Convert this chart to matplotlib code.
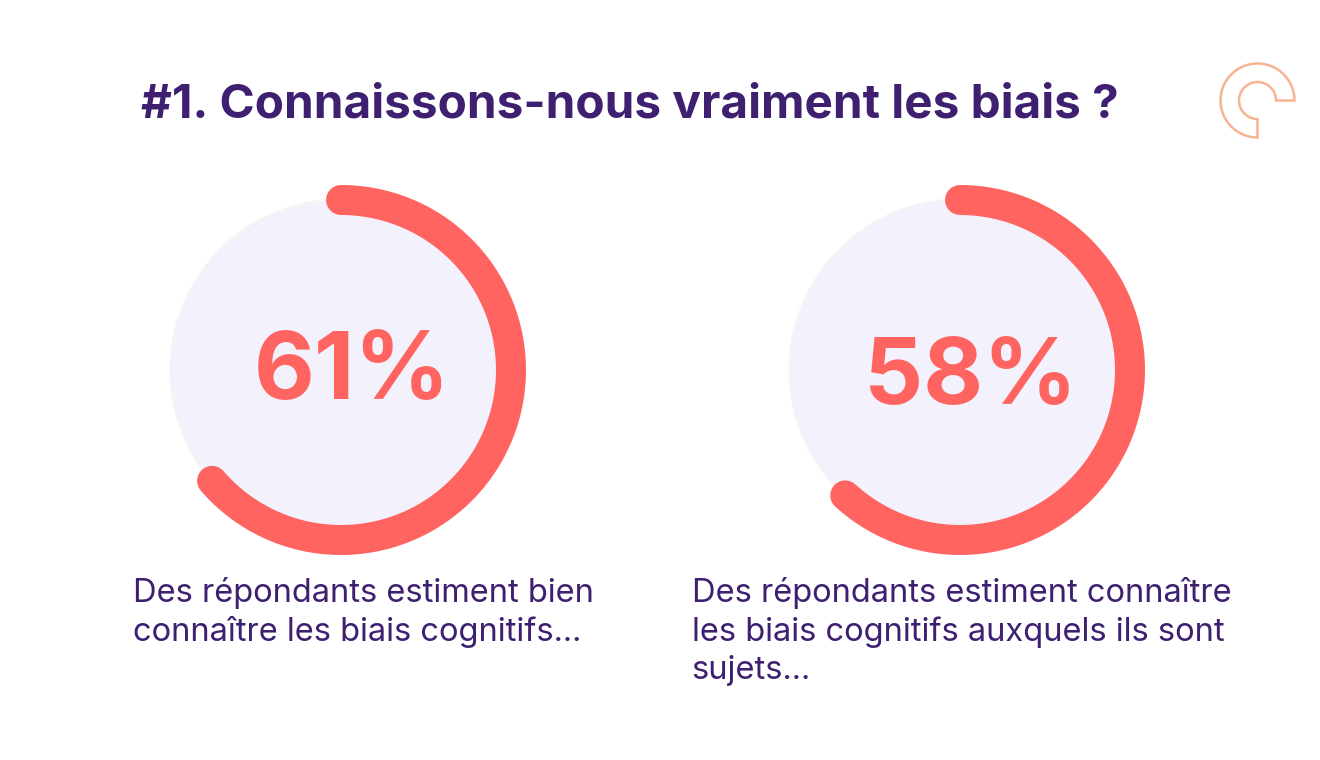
import numpy as np
import matplotlib
matplotlib.use("Agg")
import matplotlib.pyplot as plt

plt.rcParams['font.family'] = ['Inter', 'DejaVu Sans']

W, H = 1320, 760

# what the labels say, and how far the arcs really go round
labels = ["61%", "58%"]
arc_share = [63.7, 61.8]
captions = ["Des répondants estiment bien\nconnaître les biais cognitifs...",
            "Des répondants estiment connaître\nles biais cognitifs auxquels ils sont\nsujets..."]
title = "#1. Connaissons-nous vraiment les biais ?"

PURPLE = "#3e1f70"
CORAL = "#ff6461"
PALE = "#f3f1fc"
PEACH = "#f6b592"

fig = plt.figure(figsize=(W / 100, H / 100), dpi=100, facecolor="white")

centers = [(341, 370), (960, 370)]
label_x = [352, 970.5]
label_y = [398.5, 404]
caption_x = [133, 691.5]
R = 200  # half size of each polar axes, px

for i in range(2):
    cx, cy = centers[i]
    ax = fig.add_axes([(cx - R) / W, 1 - (cy + R) / H, 2 * R / W, 2 * R / H], projection="polar")
    ax.set_theta_zero_location("N")
    ax.set_theta_direction(-1)
    ax.set_ylim(0, R)
    ax.axis("off")
    ax.bar(0, 171, width=2 * np.pi, bottom=0, color=PALE, linewidth=0)
    ring = np.linspace(0, 2 * np.pi, 400)
    ax.plot(ring, np.full_like(ring, 171), color="#fdf3f0", lw=1)
    theta = np.linspace(0, 2 * np.pi * arc_share[i] / 100, 300)
    ax.plot(theta, np.full_like(theta, 170), color=CORAL, lw=30 * 0.72, solid_capstyle="round")

# overlay in pixel coordinates for the text and the logo
ov = fig.add_axes([0, 0, 1, 1])
ov.set_xlim(0, W)
ov.set_ylim(H, 0)
ov.axis("off")
ov.patch.set_alpha(0)

ov.text(141, 117, title, fontsize=34.3, fontweight="bold", color=PURPLE, ha="left", va="baseline")

for i in range(2):
    ov.text(label_x[i], label_y[i], labels[i], fontsize=67.5 if i == 0 else 66.5, fontweight="bold",
            color=CORAL, ha="center", va="baseline")
    ov.text(caption_x[i], 577, captions[i], fontsize=23.5, color=PURPLE, ha="left", va="top",
            linespacing=1.3)

# logo outline
lx, ly = 1257.5, 100.5
a = np.radians(np.linspace(0, 270, 80))
outer_x = lx + 37 * np.cos(a)
outer_y = ly - 37 * np.sin(a)
inner_x = lx + 18.5 * np.cos(a[::-1])
inner_y = ly - 18.5 * np.sin(a[::-1])
ov.fill(np.r_[outer_x, inner_x], np.r_[outer_y, inner_y], facecolor="none", edgecolor=PEACH, lw=1.8, joinstyle="miter")

fig.savefig("out.png", dpi=100)
